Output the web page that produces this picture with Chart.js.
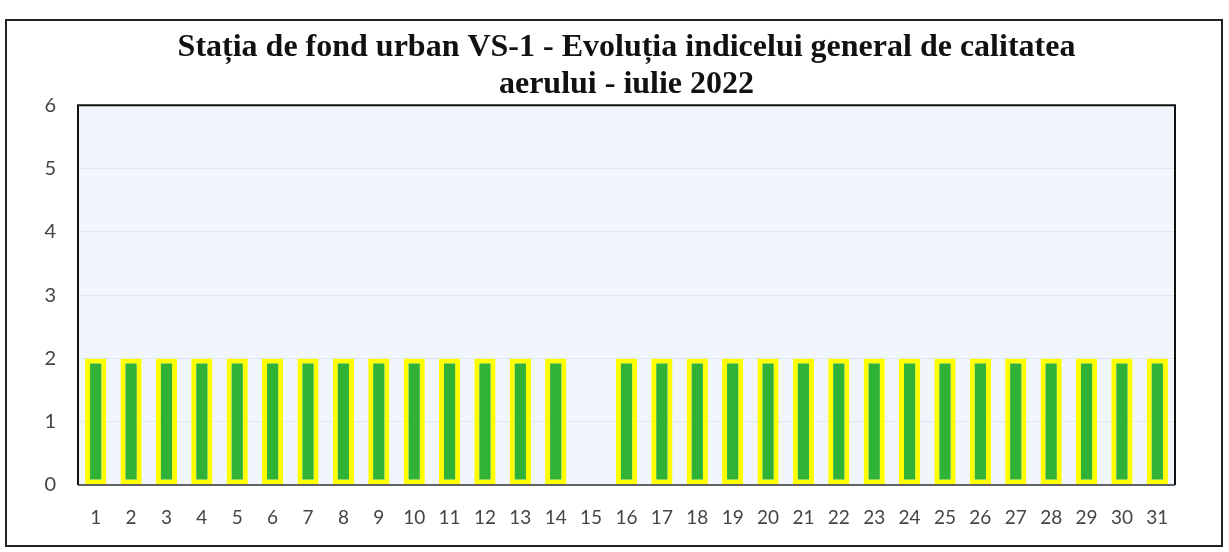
<!DOCTYPE html>
<html><head><meta charset="utf-8">
<script src="https://cdn.jsdelivr.net/npm/chart.js@4/dist/chart.umd.min.js"></script>
<style>html,body{margin:0;padding:0;background:#fff;}#wrap{width:1229px;height:552px;}</style>
</head><body><div id="wrap"><canvas id="c" width="1229" height="552"></canvas></div>
<script>
const titleLines = ["Stația de fond urban VS-1 - Evoluția indicelui general de calitatea", "aerului - iulie 2022"];
const days = ["1","2","3","4","5","6","7","8","9","10","11","12","13","14","15","16","17","18","19","20","21","22","23","24","25","26","27","28","29","30","31"];
const indexValues = [2,2,2,2,2,2,2,2,2,2,2,2,2,2,null,2,2,2,2,2,2,2,2,2,2,2,2,2,2,2,2];
const yTicks = [0,1,2,3,4,5,6];

const bgPlugin = {
  id: 'bg',
  beforeDraw(chart) {
    const {ctx, chartArea: a} = chart;
    ctx.save();
    ctx.fillStyle = '#f1f6fc';
    ctx.fillRect(a.left, a.top, a.right - a.left, a.bottom - a.top);
    ctx.restore();
  },
  afterDraw(chart) {
    const {ctx, chartArea: a} = chart;
    ctx.save();
    ctx.strokeStyle = '#111';
    ctx.lineWidth = 2;
    ctx.beginPath();
    ctx.moveTo(a.left, a.bottom); ctx.lineTo(a.left, a.top); ctx.lineTo(a.right, a.top); ctx.lineTo(a.right, a.bottom);
    ctx.stroke();
    ctx.strokeStyle = '#333';
    ctx.lineWidth = 1.5;
    ctx.beginPath();
    ctx.moveTo(a.left, a.bottom); ctx.lineTo(a.right, a.bottom);
    ctx.stroke();
    ctx.strokeStyle = '#222';
    ctx.lineWidth = 2;
    ctx.strokeRect(6, 20, 1216, 526);
    ctx.restore();
  }
};

new Chart(document.getElementById('c'), {
  type: 'bar',
  data: {
    labels: days,
    datasets: [{
      data: indexValues,
      backgroundColor: '#2fb236',
      borderColor: '#ffff00',
      borderWidth: 5,
      borderSkipped: false,
      barPercentage: 0.6,
      categoryPercentage: 1
    }]
  },
  options: {
    responsive: false,
    animation: false,
    layout: { padding: { left: 30, right: 54, top: 29, bottom: 12 } },
    plugins: {
      legend: { display: false },
      tooltip: { enabled: false },
      title: {
        display: true,
        fullSize: false,
        text: titleLines,
        color: '#111',
        font: { family: '"Liberation Serif", "Times New Roman", serif', size: 32, weight: 'bold', lineHeight: 1.16 },
        padding: { top: 0, bottom: 2 }
      }
    },
    scales: {
      x: {
        grid: { display: false, drawBorder: false },
        border: { display: false },
        ticks: { color: '#444', font: { family: 'Lato, "Open Sans", sans-serif', size: 19 }, padding: 13, maxRotation: 0, autoSkip: false },
        afterFit(s) { s.height = 55; }
      },
      y: {
        min: 0, max: 6,
        afterBuildTicks(s) { s.ticks = yTicks.map(v => ({value: v})); },
        grid: { color: '#d9e8f4', lineWidth: 1, drawTicks: false },
        border: { display: false },
        ticks: { color: '#444', font: { family: 'Lato, "Open Sans", sans-serif', size: 20 }, padding: 22 },
        afterFit(s) { s.width = 48; }
      }
    }
  },
  plugins: [bgPlugin]
});
</script>
</body></html>
